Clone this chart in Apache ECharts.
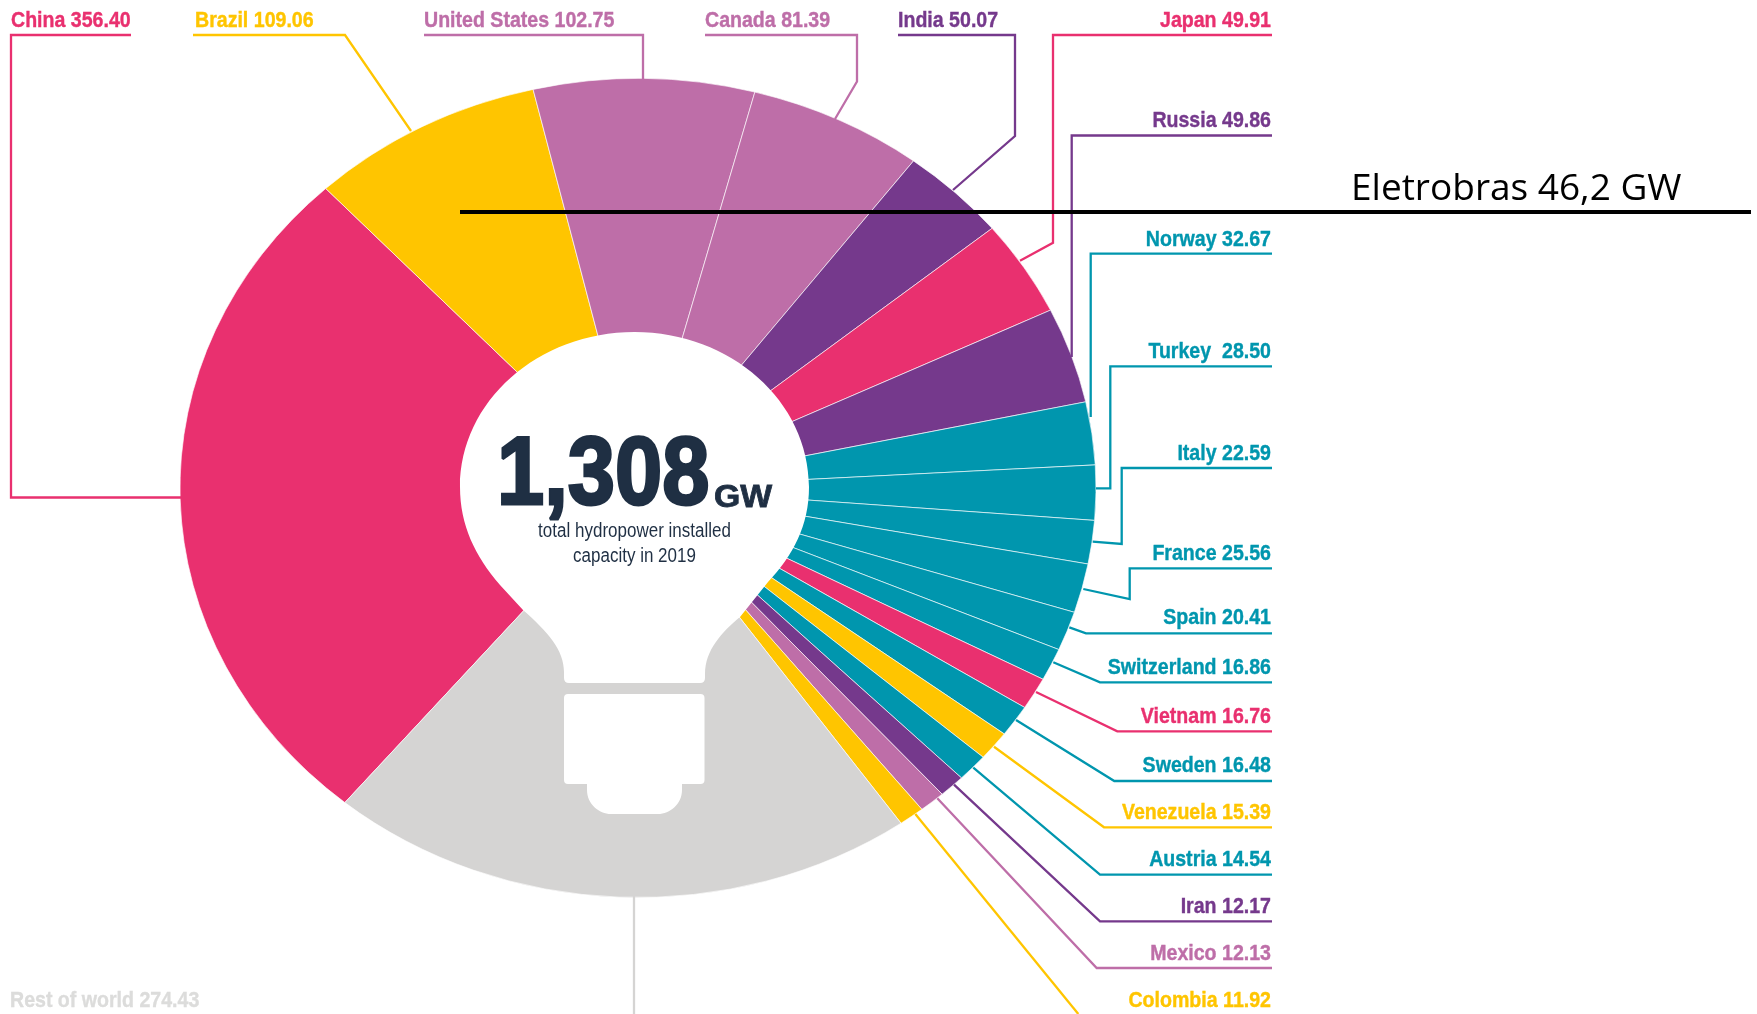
<!DOCTYPE html>
<html>
<head>
<meta charset="utf-8">
<title>Hydropower installed capacity 2019</title>
<script src="https://cdn.jsdelivr.net/npm/echarts@6/dist/echarts.min.js"></script>
<style>
  html, body { margin: 0; background: #fff; }
  #pie, #notes { position: absolute; left: 0; top: 0; height: 1014px; }
  #pie { transform-origin: 0 0; }
  #notes { width: 1757px; }
</style>
</head>
<body>
<div id="pie"></div>
<div id="notes"></div>
<script>
// data, clockwise from China
const countries = ["China", "Brazil", "United States", "Canada", "India", "Japan", "Russia", "Norway", "Turkey ", "Italy", "France", "Spain", "Switzerland", "Vietnam", "Sweden", "Venezuela", "Austria", "Iran", "Mexico", "Colombia", "Rest of world"];
const capacity = [356.40, 109.06, 102.75, 81.39, 50.07, 49.91, 49.86, 32.67, 28.50, 22.59, 25.56, 20.41, 16.86, 16.76, 16.48, 15.39, 14.54, 12.17, 12.13, 11.92, 274.43];

const PINK = "#e9306f", GOLD = "#ffc500", MAUVE = "#be6ea8", PURPLE = "#75398c", TEAL = "#0096ae", GREY = "#d5d4d3";
const sliceColors = [PINK, GOLD, MAUVE, MAUVE, PURPLE, PINK, PURPLE, TEAL, TEAL, TEAL, TEAL, TEAL, TEAL, PINK, TEAL, GOLD, TEAL, PURPLE, MAUVE, GOLD, GREY];

// the reference is stretched sideways, so the pie is an ellipse
const RX = 458, RY = 409.5, CX = 638, CY = 488;
const stretch = RX / RY;

// label anchor: x, baseline, align
const labelSpots = [
  [11, 28.5, "left"], [195, 28.5, "left"], [424, 28.5, "left"], [705, 28.5, "left"], [898, 28.5, "left"],
  [1271, 28.5, "right"], [1271, 128.5, "right"], [1271, 247.2, "right"], [1271, 359.8, "right"],
  [1271, 461.2, "right"], [1271, 561.2, "right"], [1271, 625.5, "right"], [1271, 675.5, "right"],
  [1271, 724.5, "right"], [1271, 773.8, "right"], [1271, 820.5, "right"], [1271, 867.8, "right"],
  [1271, 914.5, "right"], [1271, 961.2, "right"], [1271, 1008.2, "right"], [10, 1008.2, "left"]
];

const leaders = [
  [[131, 35], [11, 35], [11, 497.5], [181, 497.5]],
  [[193, 35], [345, 35], [411, 131]],
  [[424, 35], [643, 35], [643, 79]],
  [[705, 35], [857, 35], [857, 81.5], [835, 119]],
  [[898, 35], [1015, 35], [1015, 136], [953, 190]],
  [[1272, 35], [1053, 35], [1053, 242.7], [1020, 260.7]],
  [[1272, 135.5], [1071.7, 135.5], [1071.7, 357]],
  [[1272, 253.7], [1090.7, 253.7], [1090.7, 417]],
  [[1272, 366.3], [1110.3, 366.3], [1110.3, 488.3], [1096, 488.3]],
  [[1272, 468], [1121.7, 468], [1121.7, 544], [1092.7, 541.7]],
  [[1272, 568.3], [1129.7, 568.3], [1129.7, 599], [1083.3, 589]],
  [[1272, 633.3], [1086, 633.3], [1069.3, 627.3]],
  [[1272, 682.3], [1100, 682.3], [1053.3, 662.3]],
  [[1272, 731.3], [1117.3, 731.3], [1036, 692]],
  [[1272, 781], [1114.3, 781], [1016, 720]],
  [[1272, 827.3], [1104, 827.3], [994, 746.7]],
  [[1272, 874.7], [1100, 874.7], [973.3, 767.7]],
  [[1272, 921.3], [1100, 921.3], [954, 784.7]],
  [[1272, 968], [1096.7, 968], [937.3, 798.3]],
  [[915.3, 814], [1078.3, 1014]],
  [[634, 896], [634, 1014]]
];

const bulbHead = "M634.5 332 C730.9 332 809 401.4 809 487 C809 525 793 556 768 582 L740 617 C722 632 705 650 705 674 L705 678 Q705 683 700 683 L569 683 Q564 683 564 678 L564 672 C564 650 548 632 523 610 L500 585 C475 556 460 525 460 487 C460 401.4 538 332 634.5 332 Z";
const bulbBase = "M568 694 L700.5 694 Q704.5 694 704.5 698 L704.5 780 Q704.5 784 700.5 784 L682 784 L682 790 C682 804 670 814 658 814 L611 814 C599 814 587 804 587 790 L587 784 L568 784 Q564 784 564 780 L564 698 Q564 694 568 694 Z";

echarts.graphic.registerShape("bulbHead", echarts.graphic.extendPath(bulbHead));
echarts.graphic.registerShape("bulbBase", echarts.graphic.extendPath(bulbBase));

const SANS = '"Liberation Sans", sans-serif';

function textEl(text, x, baseline, font, size, fill, align, scaleX, weight, extra) {
  return {
    type: "text",
    x: x,
    y: baseline - size * 0.34,
    scaleX: scaleX,
    silent: true,
    style: Object.assign({
      text: text,
      fill: fill,
      font: (weight || "normal") + " " + size + "px " + font,
      textAlign: align,
      textVerticalAlign: "middle"
    }, extra || {})
  };
}

const pieDom = document.getElementById("pie");
pieDom.style.width = 1757 / stretch + "px";
pieDom.style.transform = "scaleX(" + stretch + ")";

const pieChart = echarts.init(pieDom, null, { renderer: "svg" });
pieChart.setOption({
  animation: false,
  series: [
    {
      type: "pie",
      center: [CX / stretch, CY],
      radius: [0, RY],
      startAngle: 230.2,
      clockwise: true,
      silent: true,
      avoidLabelOverlap: false,
      label: { show: false },
      labelLine: { show: false },
      itemStyle: { borderColor: "rgba(255,255,255,0.75)", borderWidth: 0.8 },
      data: countries.map((name, i) => ({
        name: name,
        value: capacity[i],
        itemStyle: { color: sliceColors[i] }
      }))
    }
  ]
});

const elements = [];

leaders.forEach((points, i) => {
  elements.push({
    type: "polyline",
    silent: true,
    shape: { points: points },
    style: { stroke: sliceColors[i], lineWidth: 2.3, fill: null }
  });
});

countries.forEach((name, i) => {
  const spot = labelSpots[i];
  const color = i === countries.length - 1 ? "#dcdcdb" : sliceColors[i];
  elements.push(textEl(name + " " + capacity[i].toFixed(2), spot[0], spot[1], SANS, 22.5, color, spot[2], 0.87, "bold", { stroke: color, lineWidth: 0.4 }));
});

// light bulb in the middle
elements.push({ type: "bulbHead", silent: true, style: { fill: "#fff" } });
elements.push({ type: "bulbBase", silent: true, style: { fill: "#fff" } });

const INK = "#1f2f43";
elements.push(textEl("1,308", 497, 510, SANS, 97, INK, "left", 0.875, "bold", { stroke: INK, lineWidth: 3 }));
elements.push(textEl("GW", 714, 508.5, SANS, 31, INK, "left", 1.09, "bold", { stroke: INK, lineWidth: 0.8 }));
elements.push(textEl("total hydropower installed", 634.5, 538, SANS, 20, INK, "center", 0.85));
elements.push(textEl("capacity in 2019", 634.5, 563, SANS, 20, INK, "center", 0.85));

// Eletrobras note added on top of the graphic
elements.push({
  type: "line",
  silent: true,
  shape: { x1: 460, y1: 212, x2: 1751, y2: 212 },
  style: { stroke: "#000", lineWidth: 4 }
});
elements.push(textEl("Eletrobras 46,2 GW", 1351, 202.5, '"Open Sans", sans-serif', 37, "#000", "left", 1));

const notesChart = echarts.init(document.getElementById("notes"));
notesChart.setOption({
  animation: false,
  backgroundColor: "transparent",
  graphic: { elements: elements }
});
</script>
</body>
</html>
